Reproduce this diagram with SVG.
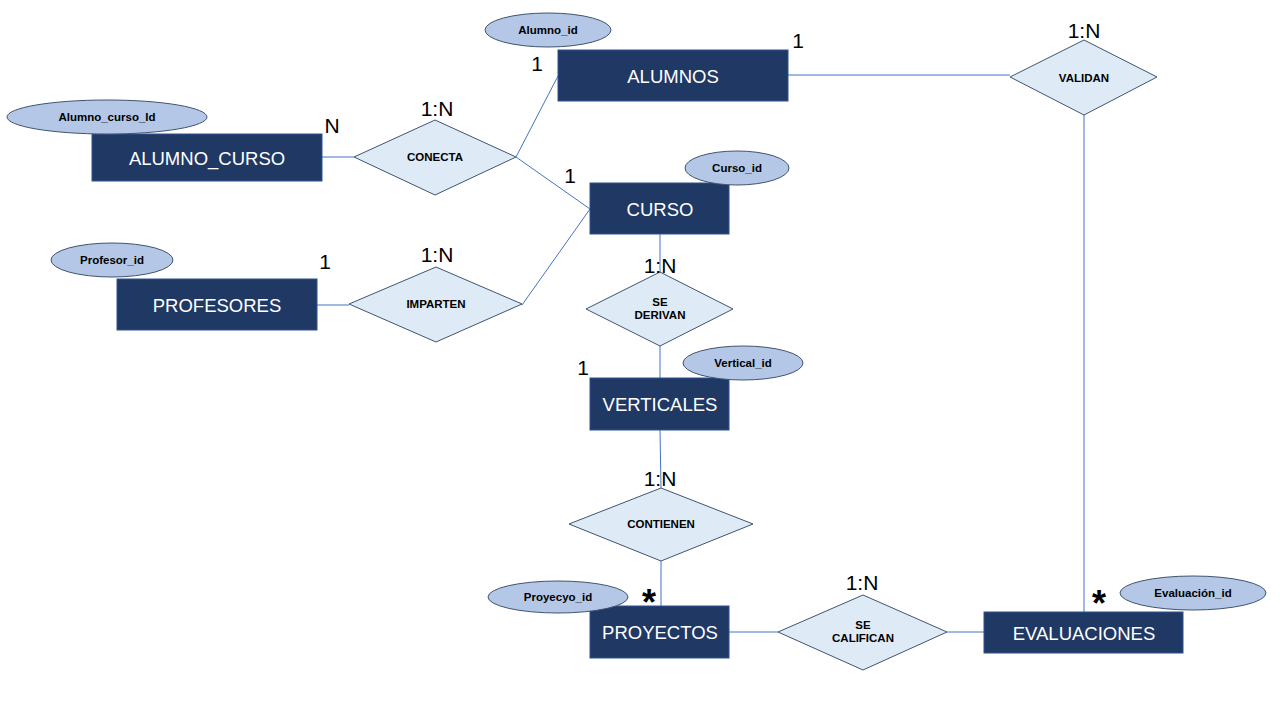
<svg xmlns="http://www.w3.org/2000/svg" width="1280" height="720" viewBox="0 0 1280 720">
<style>
.ent{fill:#203864;stroke:#2F528F;stroke-width:1}
.entt{font-family:"Liberation Sans",Arial,sans-serif;font-size:18.5px;fill:#FFFFFF;text-anchor:middle;dominant-baseline:central}
.rel{fill:#DEEBF7;stroke:#41546E;stroke-width:1}
.relt{font-family:"Liberation Sans",Arial,sans-serif;font-size:11.5px;font-weight:bold;fill:#000000;text-anchor:middle;dominant-baseline:central}
.att{fill:#B4C7E7;stroke:#41546E;stroke-width:1}
.attt{font-family:"Liberation Sans",Arial,sans-serif;font-size:11.5px;font-weight:bold;fill:#000000;text-anchor:middle;dominant-baseline:central}
.card{font-family:"Liberation Sans",Arial,sans-serif;font-size:21px;fill:#000000;text-anchor:middle;dominant-baseline:central}
.star{font-family:"Liberation Sans",Arial,sans-serif;font-size:36px;font-weight:bold;fill:#000000;text-anchor:middle;dominant-baseline:central}
.ln{stroke:#4472C4;stroke-width:1;fill:none}
</style>
<rect width="1280" height="720" fill="#FFFFFF"/>
<g id="connectors">
<line class="ln" x1="788" y1="75" x2="1010" y2="75"/>
<line class="ln" x1="1084" y1="115" x2="1084" y2="612"/>
<line class="ln" x1="322" y1="157" x2="354" y2="157"/>
<line class="ln" x1="516" y1="157" x2="558" y2="76"/>
<line class="ln" x1="516" y1="157" x2="590" y2="209"/>
<line class="ln" x1="317" y1="305" x2="349" y2="305"/>
<line class="ln" x1="522" y1="305" x2="590" y2="209"/>
<line class="ln" x1="660" y1="234" x2="660" y2="272"/>
<line class="ln" x1="660" y1="346" x2="660" y2="378"/>
<line class="ln" x1="660" y1="430" x2="661" y2="488"/>
<line class="ln" x1="661" y1="561" x2="661" y2="606"/>
<line class="ln" x1="729" y1="632" x2="778" y2="632"/>
<line class="ln" x1="947" y1="632" x2="984" y2="632"/>
</g>
<g id="alumnos">
<rect class="ent" x="558" y="50" width="230" height="51"/>
<text class="entt" x="673" y="76">ALUMNOS</text>
</g>
<g id="alumno_id">
<ellipse class="att" cx="548" cy="30" rx="63" ry="17"/>
<text class="attt" x="548" y="30">Alumno_id</text>
</g>
<g id="alumno_curso">
<rect class="ent" x="92" y="134" width="230" height="47"/>
<text class="entt" x="207" y="158">ALUMNO_CURSO</text>
</g>
<g id="alumno_curso_id">
<ellipse class="att" cx="107" cy="117" rx="100" ry="17"/>
<text class="attt" x="107" y="117">Alumno_curso_Id</text>
</g>
<g id="curso">
<rect class="ent" x="590" y="183" width="139" height="51"/>
<text class="entt" x="660" y="209">CURSO</text>
</g>
<g id="curso_id">
<ellipse class="att" cx="737" cy="168" rx="52" ry="17"/>
<text class="attt" x="737" y="168">Curso_id</text>
</g>
<g id="profesores">
<rect class="ent" x="117" y="279" width="200" height="51"/>
<text class="entt" x="217" y="305">PROFESORES</text>
</g>
<g id="profesor_id">
<ellipse class="att" cx="112" cy="260" rx="61" ry="17"/>
<text class="attt" x="112" y="260">Profesor_id</text>
</g>
<g id="verticales">
<rect class="ent" x="590" y="378" width="139" height="52"/>
<text class="entt" x="660" y="404">VERTICALES</text>
</g>
<g id="vertical_id">
<ellipse class="att" cx="743" cy="363" rx="60" ry="17"/>
<text class="attt" x="743" y="363">Vertical_id</text>
</g>
<g id="proyectos">
<rect class="ent" x="590" y="606" width="139" height="52"/>
<text class="entt" x="660" y="632">PROYECTOS</text>
</g>
<g id="proyecyo_id">
<ellipse class="att" cx="558" cy="597" rx="70" ry="16"/>
<text class="attt" x="558" y="597">Proyecyo_id</text>
</g>
<g id="evaluaciones">
<rect class="ent" x="984" y="612" width="199" height="41"/>
<text class="entt" x="1084" y="633">EVALUACIONES</text>
</g>
<g id="evaluacion_id">
<ellipse class="att" cx="1193" cy="593" rx="73" ry="17"/>
<text class="attt" x="1193" y="593">Evaluación_id</text>
</g>
<g id="validan">
<polygon class="rel" points="1084,40 1157,77 1084,115 1010,77"/>
<text class="relt" x="1084" y="78">VALIDAN</text>
</g>
<g id="conecta">
<polygon class="rel" points="435,120 516,157 435,195 354,157"/>
<text class="relt" x="435" y="157">CONECTA</text>
</g>
<g id="imparten">
<polygon class="rel" points="436,267 522,304 436,342 349,304"/>
<text class="relt" x="436" y="304">IMPARTEN</text>
</g>
<g id="se_derivan">
<polygon class="rel" points="660,272 733,309 660,346 586,309"/>
<text class="relt" x="660" y="302">SE</text>
<text class="relt" x="660" y="315">DERIVAN</text>
</g>
<g id="contienen">
<polygon class="rel" points="661,488 753,524 661,561 569,524"/>
<text class="relt" x="661" y="524">CONTIENEN</text>
</g>
<g id="se_califican">
<polygon class="rel" points="863,595 947,632 863,670 778,632"/>
<text class="relt" x="863" y="625">SE</text>
<text class="relt" x="863" y="638">CALIFICAN</text>
</g>
<g id="cardinalities">
<text class="card" x="537" y="63">1</text>
<text class="card" x="798" y="40">1</text>
<text class="card" x="1084" y="30">1:N</text>
<text class="card" x="332" y="125">N</text>
<text class="card" x="437" y="108">1:N</text>
<text class="card" x="570" y="175">1</text>
<text class="card" x="325" y="261">1</text>
<text class="card" x="437" y="254">1:N</text>
<text class="card" x="660" y="265">1:N</text>
<text class="card" x="583" y="367">1</text>
<text class="card" x="660" y="478">1:N</text>
<text class="card" x="862" y="582">1:N</text>
<text class="star" x="649" y="602">*</text>
<text class="star" x="1099" y="603">*</text>
</g>
</svg>
